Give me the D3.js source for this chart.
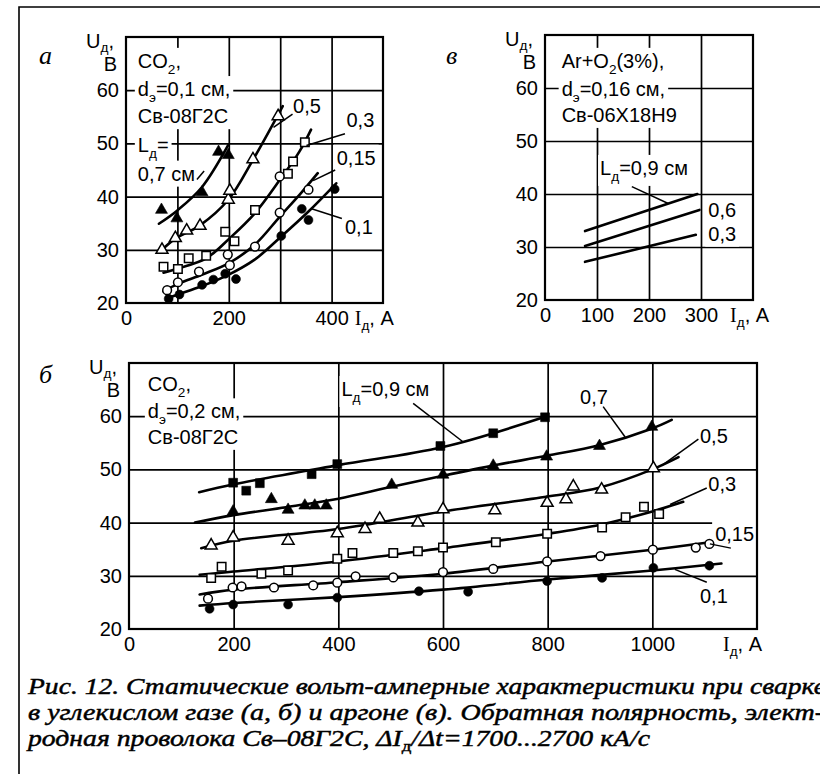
<!DOCTYPE html>
<html><head><meta charset="utf-8">
<script src="https://cdn.jsdelivr.net/npm/d3@7"></script>
<style>body{margin:0;background:#fff}svg{display:block}</style>
</head><body>
<svg id="c" width="820" height="774"></svg>
<script>
// ================= DATA =================
// Panel а : CO2, d=0,1 см, Св-08Г2С  (I, A ; U, V)
const aGridX = [100, 200, 300, 400];
const aTickX = [0, 200, 400];
const aTickY = [20, 30, 40, 50, 60];
const aL07Line = [[64,34.9],[100,37.4],[148,41.8],[199,49.7]];
const aL07Pts  = [[69,37.5],[99,35.9],[148,40.8],[180,48.4],[199,47.8]];
const aL05Line = [[70,30],[96,32.1],[144,34.6],[199,39.4],[247,46.9],[305,57]];
const aL05Pts  = [[70,30],[96,32.2],[118,33.6],[144,34.5],[199,39.4],[202,41.1],[247,47.0],[296,55.1]];
const aL03Line = [[73,25.7],[101,26.5],[156,28.4],[202,32.2],[251,36.9],[299,43.1],[337,48.4],[360,52.6]];
const aL03Pts  = [[73,26.8],[101,26.4],[122,28.4],[156,28.9],[193,33.4],[211,31.6],[251,37.5],[315,44.3],[325,46.6],[348,50.2]];
const aL015Line = [[73,22.2],[101,23.6],[150,25.4],[202,27.6],[251,31.0],[299,36.2],[340,40.6],[373,44.4]];
const aL015Pts  = [[80,22.4],[101,23.9],[142,25.9],[198,29.1],[202,27.1],[251,30.6],[299,37.0],[299,43.8],[355,41.3]];
const aL01Line = [[80,20.9],[104,21.7],[148,23.2],[193,25.0],[251,28.2],[302,32.5],[355,37.2],[409,42.5]];
const aL01Pts  = [[83,20.8],[104,21.6],[148,23.4],[170,24.4],[193,25.5],[214,24.5],[302,32.6],[342,37.7],[355,35.6],[406,41.4]];

// Panel в : Ar+O2(3%), d=0,16 см
const vGridX = [100, 200, 300];
const vTickX = [0, 100, 200, 300];
const vTickY = [20, 30, 40, 50, 60];
const vL09Line = [[77,33.0],[293,40.0]];
const vL06Line = [[77,30.2],[297,37.0]];
const vL03Line = [[77,27.2],[290,32.3]];

// Panel б : CO2, d=0,2 см
const bGridX = [200, 400, 600, 800, 1000];
const bTickX = [0, 200, 400, 600, 800, 1000];
const bTickY = [20, 30, 40, 50, 60];
const bL09Line = [[134,45.7],[200,47.2],[400,50.8],[600,54.2],[795,59.9]];
const bL09Pts  = [[199,47.5],[224,46.0],[250,47.4],[349,49.1],[398,51.0],[595,54.4],[696,56.8],[795,59.8]];
const bL07Line = [[126,40.0],[200,41.4],[300,42.9],[400,44.5],[500,46.7],[600,48.8],[700,50.8],[800,52.6],[900,54.6],[1000,57.7],[1037,59.3]];
const bL07Pts  = [[199,42.1],[272,44.4],[304,42.4],[336,43.2],[355,43.2],[377,43.2],[502,47.1],[600,49.0],[696,50.7],[798,52.4],[899,54.4],[999,58.0]];
const bL05Line = [[138,35.2],[200,36.6],[400,38.8],[600,42.1],[800,44.9],[900,46.6],[1000,50.0],[1050,52.3]];
const bL05Pts  = [[157,35.7],[199,37.2],[304,36.6],[398,38.0],[451,38.8],[479,40.7],[552,40.0],[600,42.5],[699,42.3],[799,43.7],[835,44.4],[849,46.8],[903,46.2],[1002,50.2]];
const bL03Line = [[135,30.2],[200,30.8],[400,32.7],[600,35.2],[800,37.9],[900,39.6],[1000,42.1],[1059,43.9]];
const bL03Pts  = [[157,29.6],[177,31.7],[253,30.4],[304,31.0],[398,33.2],[427,34.3],[505,34.3],[552,34.6],[600,35.3],[701,36.3],[799,37.9],[904,39.1],[949,41.0],[984,43.0],[1013,41.6]];
const bL015Line = [[135,26.5],[200,27.4],[400,28.8],[600,30.4],[800,32.7],[1000,34.9],[1110,36.3]];
const bL015Pts  = [[151,25.7],[198,27.8],[215,28.0],[277,27.8],[352,28.2],[398,28.7],[433,29.9],[505,29.7],[600,30.7],[696,31.3],[799,32.7],[901,33.7],[1001,34.9],[1083,35.3],[1109,36.0]];
const bL01Line = [[135,24.4],[200,24.9],[400,26.0],[600,27.4],[800,29.3],[1000,31.0],[1132,32.3]];
const bL01Pts  = [[154,23.8],[199,24.6],[304,24.6],[398,25.9],[554,27.1],[648,27.0],[799,29.0],[904,29.6],[1002,31.5],[1109,31.9]];

const captionLines = [
  "Рис. 12. Статические вольт-амперные характеристики при сварке",
  "в углекислом газе (а, б) и аргоне (в). Обратная полярность, элект-",
  "родная проволока Св–08Г2С, ΔI_{д}/Δt=1700...2700 кА/с"
];

// ================= DRAWING =================
const SANS = "'Liberation Sans', Arial, Helvetica, sans-serif";
const SERIF = "'Liberation Serif', 'Times New Roman', serif";
const svg = d3.select('#c');
svg.append('rect').attr('width',820).attr('height',774).attr('fill','#fff');
svg.append('path').attr('d','M19,774V7H820').attr('fill','none').attr('stroke','#000').attr('stroke-width',1.6);

function rich(g, x, y, str, o = {}) {
  const size = o.size || 20;
  const t = g.append('text').attr('x', x).attr('y', y)
    .attr('font-family', o.family || SANS).attr('font-size', size)
    .attr('font-style', o.style || 'normal')
    .attr('text-anchor', o.anchor || 'start').attr('fill', '#000');
  const re = /_\{([^}]*)\}/g;
  let last = 0, m, shift = 0;
  const sd = o.subDy || Math.round(size * 0.28);
  const push = (txt, sub) => {
    if (!txt) return;
    const ts = t.append('tspan').text(txt);
    if (sub) { ts.attr('font-size', size * 0.68).attr('dy', sd - shift); shift = sd; ts.attr('font-style', o.subStyle || null); }
    else { if (shift) ts.attr('dy', -shift); shift = 0; }
  };
  while ((m = re.exec(str))) { push(str.slice(last, m.index), false); push(m[1], true); last = re.lastIndex; }
  push(str.slice(last), false);
  return t;
}

function panel(c) {
  const x = d3.scaleLinear().domain(c.xDom).range([c.x0, c.x1]);
  const y = d3.scaleLinear().domain(c.yDom).range([c.y1, c.y0]);
  const g = svg.append('g');
  const P = { x, y };
  P.grid = g.append('g'); P.mask = g.append('g'); P.frame = g.append('g');
  P.lines = g.append('g'); P.marks = g.append('g'); P.text = g.append('g');
  P.grid.append('g').attr('transform', `translate(0,${c.y1})`)
    .call(d3.axisBottom(x).tickValues(c.gridX).tickSize(-(c.y1 - c.y0)).tickFormat(''))
    .call(s => { s.select('.domain').remove(); s.selectAll('line').attr('stroke', '#000').attr('stroke-width', 1.7); });
  P.grid.append('g').attr('transform', `translate(${c.x0},0)`)
    .call(d3.axisLeft(y).tickValues([30, 40, 50, 60]).tickSize(-(c.x1 - c.x0)).tickFormat(''))
    .call(s => { s.select('.domain').remove(); s.selectAll('line').attr('stroke', '#000').attr('stroke-width', 1.7); });
  P.frame.append('rect').attr('x', c.x0).attr('y', c.y0).attr('width', c.x1 - c.x0).attr('height', c.y1 - c.y0)
    .attr('fill', 'none').attr('stroke', '#000').attr('stroke-width', 2.2);
  const ax = P.text.append('g').attr('transform', `translate(0,${c.y1})`)
    .call(d3.axisBottom(x).tickValues(c.tickX).tickSize(0).tickPadding(8).tickFormat(d3.format('d')));
  const ay = P.text.append('g').attr('transform', `translate(${c.x0},0)`)
    .call(d3.axisLeft(y).tickValues(c.tickY).tickSize(0).tickPadding(7).tickFormat(d3.format('d')));
  [ax, ay].forEach(a => { a.select('.domain').remove(); a.attr('font-size', 20).attr('font-family', SANS); a.selectAll('text').attr('fill', '#000'); });
  rich(P.text, c.x0 - 12, c.y0 + 11, 'U_{д},', { anchor: 'end', subDy: 4 });
  rich(P.text, c.x0 - 9, c.y0 + 34, 'B', { anchor: 'end' });
  const it = P.text.append('text').attr('x', x(c.iAt)).attr('y', c.y1 + 22).attr('font-size', 20).attr('fill', '#000');
  it.append('tspan').attr('font-family', SERIF).text('I');
  it.append('tspan').attr('font-family', SANS).attr('font-size', 13.5).attr('dy', 5).text('д');
  it.append('tspan').attr('font-family', SANS).attr('dy', -5).text(', A');
  P.text.append('text').attr('x', c.letterX).attr('y', c.letterY).attr('font-family', SERIF)
    .attr('font-style', 'italic').attr('font-size', 26).attr('fill', '#000').text(c.letter);
  return P;
}

function note(P, str, a, u, padX = 3) {
  const t = rich(P.text, P.x(a), P.y(u), str);
  const b = t.node().getBBox();
  P.mask.append('rect').attr('x', b.x - padX).attr('y', b.y - 2).attr('width', b.width + 2 * padX)
    .attr('height', b.height + 4).attr('fill', '#fff');
  return t;
}
function leader(P, p, q) {
  P.text.append('line').attr('x1', P.x(p[0])).attr('y1', P.y(p[1])).attr('x2', P.x(q[0])).attr('y2', P.y(q[1]))
    .attr('stroke', '#000').attr('stroke-width', 1.5);
}
function curve(P, data, w = 2.6) {
  const ln = d3.line().x(d => P.x(d[0])).y(d => P.y(d[1])).curve(d3.curveCatmullRom.alpha(0.5));
  P.lines.append('path').attr('d', ln(data)).attr('fill', 'none').attr('stroke', '#000').attr('stroke-width', w)
    .attr('stroke-linecap', 'round');
}
const SYM = {
  triF: [d3.symbolTriangle, 62, true], triO: [d3.symbolTriangle, 62, false],
  sqF: [d3.symbolSquare, 78, true], sqO: [d3.symbolSquare, 72, false],
  cF: [d3.symbolCircle, 62, true], cO: [d3.symbolCircle, 60, false]
};
function marks(P, data, kind) {
  const [type, size, filled] = SYM[kind];
  P.marks.selectAll(null).data(data).join('path')
    .attr('transform', d => `translate(${P.x(d[0])},${P.y(d[1])})`)
    .attr('d', d3.symbol().type(type).size(size))
    .attr('fill', filled ? '#000' : '#fff').attr('stroke', '#000').attr('stroke-width', filled ? 0.6 : 1.5);
}

// ---------- Panel а ----------
const A = panel({ x0: 126, x1: 383, y0: 37, y1: 303, xDom: [0, 500], yDom: [20, 70],
  gridX: aGridX, tickX: aTickX, tickY: aTickY, iAt: 445, letter: 'а', letterX: 39, letterY: 64 });
curve(A, aL07Line); curve(A, aL05Line); curve(A, aL03Line); curve(A, aL015Line); curve(A, aL01Line);
marks(A, aL07Pts, 'triF'); marks(A, aL05Pts, 'triO'); marks(A, aL03Pts, 'sqO');
marks(A, aL015Pts, 'cO'); marks(A, aL01Pts, 'cF');
note(A, 'CO_{2},', 23, 64.2); note(A, 'd_{э}=0,1 см,', 23, 58.9); note(A, 'Св-08Г2С', 23, 53.8);
note(A, 'L_{д}=', 23, 48.4); note(A, '0,7 см', 23, 43.0);
leader(A, [138, 43.2], [152, 44.8]);
note(A, '0,5', 325, 55.7); leader(A, [324, 55.5], [287, 53]);
note(A, '0,3', 429, 53.0); leader(A, [426, 51.8], [351, 49.6]);
note(A, '0,15', 410, 46.0); leader(A, [407, 45.0], [364, 43.0]);
note(A, '0,1', 426, 32.9); leader(A, [420, 35.9], [361, 37.7]);

// ---------- Panel в ----------
const V = panel({ x0: 545, x1: 753, y0: 35, y1: 300, xDom: [0, 400], yDom: [20, 70],
  gridX: vGridX, tickX: vTickX, tickY: vTickY, iAt: 356, letter: 'в', letterX: 446, letterY: 64 });
curve(V, vL09Line); curve(V, vL06Line); curve(V, vL03Line);
note(V, 'Ar+O_{2}(3%),', 32, 63.8); note(V, 'd_{э}=0,16 см,', 32, 58.5); note(V, 'Св-06Х18Н9', 32, 53.6);
note(V, 'L_{д}=0,9 см', 106, 43.6, 2); leader(V, [167, 41.4], [237, 38.2]);
note(V, '0,6', 314, 35.7); note(V, '0,3', 314, 31.2);

// ---------- Panel б ----------
const B = panel({ x0: 129, x1: 757, y0: 363, y1: 629, xDom: [0, 1200], yDom: [20, 70],
  gridX: bGridX, tickX: bTickX, tickY: bTickY, iAt: 1135, letter: 'б', letterX: 39, letterY: 383 });
curve(B, bL09Line); curve(B, bL07Line); curve(B, bL05Line); curve(B, bL03Line); curve(B, bL015Line); curve(B, bL01Line);
marks(B, bL09Pts, 'sqF'); marks(B, bL07Pts, 'triF'); marks(B, bL05Pts, 'triO');
marks(B, bL03Pts, 'sqO'); marks(B, bL015Pts, 'cO'); marks(B, bL01Pts, 'cF');
note(B, 'CO_{2},', 36, 64.7); note(B, 'd_{э}=0,2 см,', 36, 59.6); note(B, 'Св-08Г2С', 36, 54.8);
note(B, 'L_{д}=0,9 см', 406, 63.8, 2); leader(B, [543, 62.4], [638, 55.2]);
note(B, '0,7', 862, 62.3); leader(B, [906, 61.8], [948, 56.1]);
note(B, '0,5', 1091, 54.9); leader(B, [1088, 55.7], [1018, 50.7]);
note(B, '0,3', 1107, 45.9); leader(B, [1104, 46.5], [1034, 43.4]);
note(B, '0,15', 1120, 36.5); leader(B, [1110, 36.0], [1150, 35.2]);
note(B, '0,1', 1091, 24.9); leader(B, [1104, 28.8], [1043, 31.2]);

// ---------- Caption ----------
const capY = [694, 720, 746];
const capW = [798, 796, 622];
captionLines.forEach((s, i) => {
  const t = rich(svg, 28, capY[i], s, { family: SERIF, style: 'italic', size: 22.5, subDy: 5, subStyle: 'normal' });
  t.attr('textLength', capW[i]).attr('lengthAdjust', 'spacingAndGlyphs')
   .attr('stroke', '#000').attr('stroke-width', 0.45);
});
</script>
</body></html>
